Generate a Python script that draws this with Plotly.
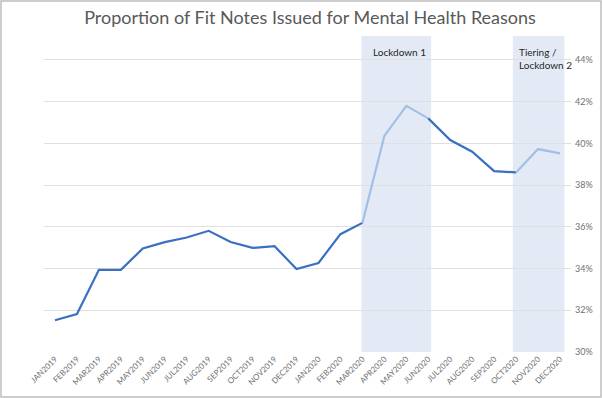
import plotly.graph_objects as go

months = ["JAN2019", "FEB2019", "MAR2019", "APR2019", "MAY2019", "JUN2019",
          "JUL2019", "AUG2019", "SEP2019", "OCT2019", "NOV2019", "DEC2019",
          "JAN2020", "FEB2020", "MAR2020", "APR2020", "MAY2020", "JUN2020",
          "JUL2020", "AUG2020", "SEP2020", "OCT2020", "NOV2020", "DEC2020"]
share_pct = [31.52, 31.82, 33.94, 33.94, 34.96, 35.27, 35.49, 35.81, 35.27, 34.99,
             35.07, 33.98, 34.27, 35.65, 36.19, 40.36, 41.80, 41.20, 40.16, 39.60,
             38.67, 38.61, 39.73, 39.52]
# periods: (start index, end index, colour key)
segments = [(0, 14, "dark"), (14, 17, "light"), (17, 21, "dark"), (21, 23, "light")]
shaded = [(13.95, 17.13, "Lockdown 1"), (20.85, 23.2, "Tiering /<br>Lockdown 2")]
y_ticks = [30, 32, 34, 36, 38, 40, 42, 44]

W, H = 602, 398
L, R, T, B = 44, 31, 36, 46
colors = {"dark": "#3B6FC2", "light": "#A2C0E6"}

fig = go.Figure()
for s, e, c in segments:
    fig.add_trace(go.Scatter(x=months[s:e + 1], y=share_pct[s:e + 1], mode="lines",
                             line=dict(color=colors[c], width=2.2), showlegend=False,
                             hoverinfo="skip"))

shapes = []
annotations = []
for x0, x1, label in shaded:
    shapes.append(dict(type="rect", xref="x", yref="y", x0=x0, x1=x1, y0=30, y1=45.15,
                       fillcolor="#E4EAF5", line=dict(width=0), layer="below"))
    annotations.append(dict(xref="x", yref="y", x=x0 + 0.45 if "Lockdown 1" == label else x0 + 0.2,
                            y=44.75, text=label, showarrow=False, xanchor="left", yanchor="top",
                            align="left", font=dict(family="Lato", size=10, color="#262626")))

# outer border
pw, ph = W - L - R, H - T - B
shapes.append(dict(type="rect", xref="paper", yref="paper",
                   x0=(1 - L) / pw, x1=(W - 1 - L) / pw,
                   y0=-(B - 1) / ph, y1=1 + (T - 1) / ph,
                   line=dict(color="#BDBDBD", width=1.5), fillcolor="rgba(0,0,0,0)"))

fig.update_layout(
    width=W, height=H, margin=dict(l=L, r=R, t=T, b=B, autoexpand=False),
    paper_bgcolor="white", plot_bgcolor="white",
    title=dict(text="Proportion of Fit Notes Issued for Mental Health Reasons",
               x=0.515, xanchor="center", y=0.955, yanchor="middle",
               font=dict(family="Lato", size=18, color="#595959")),
    shapes=shapes, annotations=annotations,
    xaxis=dict(type="category", categoryorder="array", categoryarray=months,
               range=[-0.5, 23.5], showgrid=False, zeroline=False, showline=False,
               automargin=False, tickangle=-45, ticks="",
               tickfont=dict(family="Lato", size=8, color="#707070")),
    yaxis=dict(range=[30, 45.15], tickvals=y_ticks, ticktext=[f"{v}%" for v in y_ticks],
               side="right", showgrid=True, gridcolor="#E0E0E0", gridwidth=1,
               zeroline=False, showline=False, ticks="", automargin=False,
               ticklabelstandoff=3,
               tickfont=dict(family="Lato", size=9, color="#707070")),
)

fig.write_html("out.html", config={"displayModeBar": False},
               post_script="document.body.style.margin='0';document.body.style.overflow='hidden';")
